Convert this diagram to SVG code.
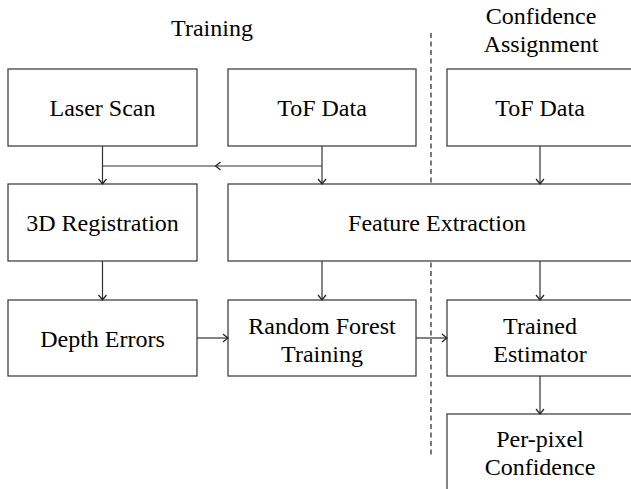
<svg xmlns="http://www.w3.org/2000/svg" width="631" height="489" viewBox="0 0 631 489">
  <style>
    .box { fill: #ffffff; stroke: #333333; stroke-width: 1.2; }
    .lbl { font-size: 24px; fill: #000000; text-anchor: middle; }
    .edge { fill: none; stroke: #333333; stroke-width: 1.2; }
    .sep { fill: none; stroke: #222222; stroke-width: 1.2; stroke-dasharray: 5 3.5; }
  </style>
  <defs>
    <marker id="tip" viewBox="-6 -5 8 10" markerWidth="8" markerHeight="10" refX="0" refY="0" orient="auto" markerUnits="userSpaceOnUse">
      <path d="M-4.5,-4 Q-1,-1 0.5,0 Q-1,1 -4.5,4" fill="none" stroke="#222222" stroke-width="1.2"/>
    </marker>
  </defs>
  <rect width="631" height="489" fill="#ffffff"/>

  <!-- column headings -->
  <text class="lbl" font-family="Liberation Serif" x="212" y="36">Training</text>
  <text class="lbl" font-family="Liberation Serif" x="541" y="24">Confidence</text>
  <text class="lbl" font-family="Liberation Serif" x="541" y="52">Assignment</text>

  <!-- phase separator -->
  <line class="sep" x1="431" y1="33" x2="431" y2="456"/>

  <g id="laser-scan">
    <rect class="box" x="8" y="69" width="189" height="77"/>
    <text class="lbl" font-family="Liberation Serif" x="102.5" y="116">Laser Scan</text>
  </g>
  <g id="tof-data-train">
    <rect class="box" x="228" y="69" width="188" height="77"/>
    <text class="lbl" font-family="Liberation Serif" x="322" y="116">ToF Data</text>
  </g>
  <g id="tof-data-assign">
    <rect class="box" x="447" y="69" width="190" height="77"/>
    <text class="lbl" font-family="Liberation Serif" x="540" y="116">ToF Data</text>
  </g>
  <g id="registration">
    <rect class="box" x="8" y="184" width="189" height="77"/>
    <text class="lbl" font-family="Liberation Serif" x="102.5" y="231">3D Registration</text>
  </g>
  <g id="feature-extraction">
    <rect class="box" x="228" y="184" width="409" height="77"/>
    <text class="lbl" font-family="Liberation Serif" x="437" y="231">Feature Extraction</text>
  </g>
  <g id="depth-errors">
    <rect class="box" x="8" y="300" width="189" height="76"/>
    <text class="lbl" font-family="Liberation Serif" x="102.5" y="347">Depth Errors</text>
  </g>
  <g id="random-forest">
    <rect class="box" x="228" y="300" width="188" height="76"/>
    <text class="lbl" font-family="Liberation Serif" x="322" y="334">Random Forest</text>
    <text class="lbl" font-family="Liberation Serif" x="322" y="362">Training</text>
  </g>
  <g id="trained-estimator">
    <rect class="box" x="447" y="300" width="190" height="76"/>
    <text class="lbl" font-family="Liberation Serif" x="540" y="334">Trained</text>
    <text class="lbl" font-family="Liberation Serif" x="540" y="362">Estimator</text>
  </g>
  <g id="per-pixel-confidence">
    <rect class="box" x="447" y="414" width="190" height="80"/>
    <text class="lbl" font-family="Liberation Serif" x="540" y="447">Per-pixel</text>
    <text class="lbl" font-family="Liberation Serif" x="540" y="475">Confidence</text>
  </g>

  <g id="connectors">
    <line class="edge" x1="102.5" y1="146" x2="102.5" y2="183.5" marker-end="url(#tip)"/>
    <line class="edge" x1="322" y1="146" x2="322" y2="183.5" marker-end="url(#tip)"/>
    <line class="edge" x1="322" y1="166" x2="216" y2="166" marker-end="url(#tip)"/>
    <line class="edge" x1="216" y1="166" x2="102.5" y2="166"/>
    <line class="edge" x1="540" y1="146" x2="540" y2="183.5" marker-end="url(#tip)"/>
    <line class="edge" x1="102.5" y1="261" x2="102.5" y2="299.5" marker-end="url(#tip)"/>
    <line class="edge" x1="322" y1="261" x2="322" y2="299.5" marker-end="url(#tip)"/>
    <line class="edge" x1="540" y1="261" x2="540" y2="299.5" marker-end="url(#tip)"/>
    <line class="edge" x1="197" y1="338" x2="227.5" y2="338" marker-end="url(#tip)"/>
    <line class="edge" x1="416" y1="338" x2="446.5" y2="338" marker-end="url(#tip)"/>
    <line class="edge" x1="540" y1="376" x2="540" y2="413.5" marker-end="url(#tip)"/>
  </g>
</svg>
